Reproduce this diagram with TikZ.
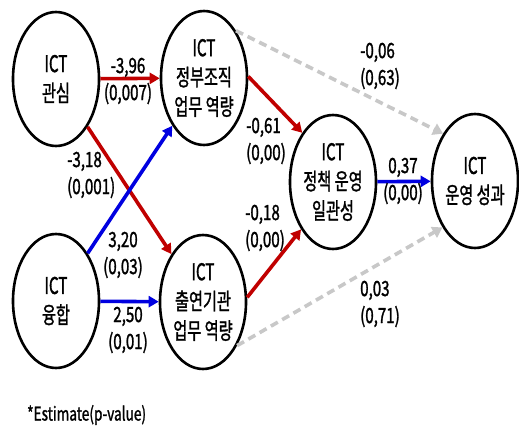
\documentclass[tikz,border=0pt]{standalone}
\usepackage{fontspec}
\setmainfont[FakeStretch=0.72,FakeBold=1.3]{Noto Sans CJK KR}
\newfontfamily\varfont[FakeStretch=0.66,FakeBold=1.3]{Noto Sans CJK KR}
\usetikzlibrary{arrows.meta,shapes.geometric}
\definecolor{pathred}{HTML}{C00000}
\definecolor{pathblue}{HTML}{0000E0}
\definecolor{pathgray}{HTML}{C8C8C8}
\begin{document}
\begin{tikzpicture}[x=1pt,y=-1pt,
  var/.style={ellipse,draw=black,line width=2.6pt,minimum width=86pt,minimum height=134pt,inner sep=0pt,align=center,font=\varfont\fontsize{23}{29.5}\selectfont},
  lab/.style={align=center,font=\fontsize{21}{27}\selectfont,inner sep=0pt},
  labl/.style={align=left,font=\fontsize{21}{27}\selectfont,inner sep=0pt,anchor=west},
  redarr/.style={draw=pathred,line width=3.6pt,-{Triangle[length=10pt,width=11pt]}},
  bluearr/.style={draw=pathblue,line width=3.6pt,-{Triangle[length=10pt,width=11pt]}},
  grayarr/.style={draw=pathgray,line width=3.6pt,dash pattern=on 8pt off 5pt,-{Triangle[length=10pt,width=12pt]}}
]
\useasboundingbox (0,0) rectangle (519,428);
\node[var] (a) at (56,79) {ICT\\관심};
\node[var] (b) at (204,78) {ICT\\정부조직\\업무 역량};
\node[var] (c) at (56,301) {ICT\\융합};
\node[var] (d) at (203,302) {ICT\\출연기관\\업무 역량};
\node[var] (e) at (333,182) {ICT\\정책 운영\\일관성};
\node[var] (f) at (475,181) {ICT\\운영 성과};

\draw[redarr] (a) -- (b);
\draw[redarr] (a) -- (d);
\draw[bluearr] (c) -- (b);
\draw[bluearr] (c) -- (d);
\draw[redarr] (b.2) -- (e.122);
\draw[redarr] (d.6) -- (e.236);
\draw[bluearr] (e) -- (f);
\draw[grayarr] (b.56) -- (f.124);
\draw[grayarr] (d.308) -- (f.235);

\node[lab] (l1) at (128,81) {-3,96\\(0,007)};
\node[labl] (l2) at (67,175) {-3,18\\(0,001)};
\node[lab] (l3) at (123,255) {3,20\\(0,03)};
\node[lab] (l4) at (128,330) {2,50\\(0,01)};
\node[labl] (l5) at (246,141) {-0,61\\(0,00)};
\node[labl] (l6) at (245,228) {-0,18\\(0,00)};
\node[lab] (l7) at (403,181) {0,37\\(0,00)};
\node[labl] (l8) at (360,66) {-0,06\\(0,63)};
\node[labl] (l9) at (360,304) {0,03\\(0,71)};
\node[anchor=west,inner sep=0pt,font=\fontsize{19}{20}\selectfont] (note) at (27,415) {*Estimate(p-value)};
\end{tikzpicture}
\end{document}
